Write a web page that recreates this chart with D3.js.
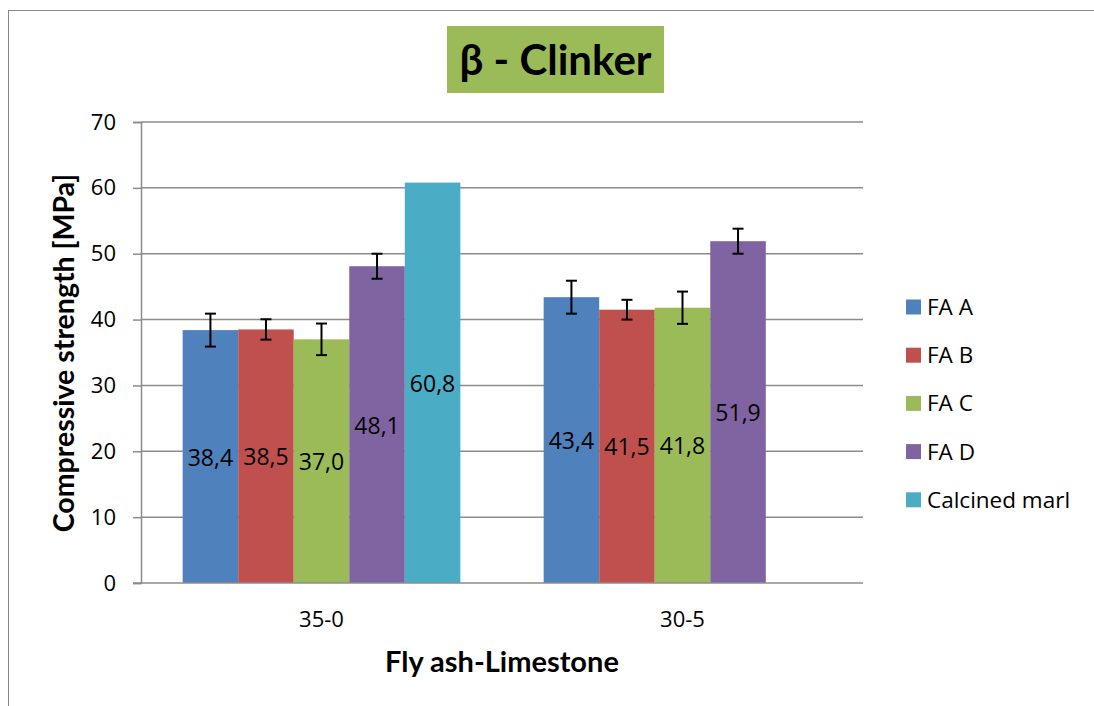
<!DOCTYPE html>
<html>
<head>
<meta charset="utf-8">
<script src="https://cdn.jsdelivr.net/npm/d3@7"></script>
<style>
  html, body { margin: 0; padding: 0; background: #fff; }
  svg { display: block; }
  text { font-family: "Open Sans", Lato, sans-serif; fill: #000; }
  .bold { font-family: Lato, "Open Sans", sans-serif; font-weight: bold; }
</style>
</head>
<body>
<svg id="chart" width="1094" height="706"></svg>
<script>
const categories = ["35-0", "30-5"];
const seriesNames = ["FA A", "FA B", "FA C", "FA D", "Calcined marl"];
const seriesColors = ["#4F81BD", "#C0504D", "#9BBB59", "#8064A2", "#4BACC6"];
// values per series, per category (null = no bar)
const faA = [38.4, 43.4];
const faB = [38.5, 41.5];
const faC = [37.0, 41.8];
const faD = [48.1, 51.9];
const calcinedMarl = [60.8, null];
// error bar half-widths per series, per category (null = none)
const errA = [2.5, 2.5];
const errB = [1.55, 1.5];
const errC = [2.4, 2.45];
const errD = [1.9, 1.9];
const errM = [null, null];
const yTicks = [0, 10, 20, 30, 40, 50, 60, 70];
const titleText = "β - Clinker";
const xTitle = "Fly ash-Limestone";
const yTitle = "Compressive strength [MPa]";

const seriesValues = [faA, faB, faC, faD, calcinedMarl];
const seriesErrors = [errA, errB, errC, errD, errM];

const svg = d3.select("#chart");
const plot = { left: 141, right: 863, top: 122, bottom: 583 };

// outer frame
svg.append("rect")
  .attr("x", 8.5).attr("y", 10.5)
  .attr("width", 1200).attr("height", 800)
  .attr("fill", "none").attr("stroke", "#888").attr("stroke-width", 1);

const y = d3.scaleLinear().domain([0, 70]).range([plot.bottom, plot.top]);
const x0 = d3.scaleBand().domain(categories).range([plot.left, plot.right]).paddingInner(0).paddingOuter(0);
const x1 = d3.scaleBand().domain(seriesNames).range([0, x0.bandwidth()]).paddingInner(0).paddingOuter(0.75);

// gridlines
svg.append("g")
  .selectAll("line")
  .data(yTicks.filter(t => t > 0))
  .join("line")
  .attr("x1", plot.left).attr("x2", plot.right)
  .attr("y1", d => y(d)).attr("y2", d => y(d))
  .attr("stroke", "#8c8c8c").attr("stroke-width", 1.5);

// y axis
const yAxis = d3.axisLeft(y).tickValues(yTicks).tickSize(8).tickPadding(17).tickFormat(d3.format("d"));
const gy = svg.append("g").attr("transform", `translate(${plot.left},0)`).call(yAxis);
gy.select(".domain").attr("stroke", "#8c8c8c").attr("stroke-width", 1.5);
gy.selectAll(".tick line").attr("stroke", "#8c8c8c").attr("stroke-width", 1.5);
gy.selectAll(".tick text").style("font-family", "'Open Sans', sans-serif").style("font-size", "22px").attr("fill", "#000");

// bars
const groups = svg.append("g")
  .selectAll("g")
  .data(categories)
  .join("g")
  .attr("transform", d => `translate(${x0(d)},0)`);

const barData = (cat, ci) => seriesNames.map((s, si) => ({
  series: s, color: seriesColors[si], value: seriesValues[si][ci], err: seriesErrors[si][ci]
})).filter(d => d.value != null);

groups.each(function(cat, ci) {
  const g = d3.select(this);
  const data = barData(cat, ci);
  g.selectAll("rect.bar")
    .data(data)
    .join("rect")
    .attr("class", "bar")
    .attr("x", d => x1(d.series))
    .attr("width", x1.bandwidth())
    .attr("y", d => y(d.value))
    .attr("height", d => y(0) - y(d.value))
    .attr("fill", d => d.color);

  // error bars
  const eb = g.selectAll("g.err")
    .data(data.filter(d => d.err != null))
    .join("g").attr("class", "err")
    .attr("stroke", "#000").attr("stroke-width", 2);
  eb.append("line")
    .attr("x1", d => x1(d.series) + x1.bandwidth() / 2)
    .attr("x2", d => x1(d.series) + x1.bandwidth() / 2)
    .attr("y1", d => y(d.value + d.err))
    .attr("y2", d => y(d.value - d.err));
  eb.append("line")
    .attr("x1", d => x1(d.series) + x1.bandwidth() / 2 - 5.5)
    .attr("x2", d => x1(d.series) + x1.bandwidth() / 2 + 5.5)
    .attr("y1", d => y(d.value + d.err))
    .attr("y2", d => y(d.value + d.err));
  eb.append("line")
    .attr("x1", d => x1(d.series) + x1.bandwidth() / 2 - 5.5)
    .attr("x2", d => x1(d.series) + x1.bandwidth() / 2 + 5.5)
    .attr("y1", d => y(d.value - d.err))
    .attr("y2", d => y(d.value - d.err));

  // data labels
  g.selectAll("text.lbl")
    .data(data)
    .join("text")
    .attr("class", "lbl")
    .attr("x", d => x1(d.series) + x1.bandwidth() / 2)
    .attr("y", d => (y(d.value) + y(0)) / 2 + 9)
    .attr("text-anchor", "middle")
    .style("font-size", "23px")
    .text(d => d3.format(".1f")(d.value).replace(".", ","));
});

// x axis line
svg.append("line")
  .attr("x1", plot.left - 8).attr("x2", plot.right)
  .attr("y1", plot.bottom).attr("y2", plot.bottom)
  .attr("stroke", "#8c8c8c").attr("stroke-width", 1.5);

// category labels
svg.append("g")
  .selectAll("text")
  .data(categories)
  .join("text")
  .attr("x", d => x0(d) + x0.bandwidth() / 2)
  .attr("y", 627)
  .attr("text-anchor", "middle")
  .style("font-size", "22px")
  .text(d => d);

// axis titles
svg.append("text")
  .attr("class", "bold")
  .attr("x", 502).attr("y", 672)
  .attr("text-anchor", "middle")
  .style("font-size", "29px")
  .text(xTitle);

svg.append("text")
  .attr("class", "bold")
  .attr("transform", "translate(74,353) rotate(-90)")
  .attr("text-anchor", "middle")
  .style("font-size", "28.5px")
  .text(yTitle);

// title with green box
svg.append("rect")
  .attr("x", 447).attr("y", 26).attr("width", 217).attr("height", 67)
  .attr("fill", "#9BBB59");
svg.append("text")
  .attr("class", "bold")
  .attr("x", 555.5).attr("y", 75)
  .attr("text-anchor", "middle")
  .style("font-size", "42px")
  .text(titleText);

// legend
const legend = svg.append("g")
  .selectAll("g")
  .data(seriesNames)
  .join("g")
  .attr("transform", (d, i) => `translate(906,${307 + i * 48.2})`);
legend.append("rect")
  .attr("x", 0).attr("y", -7.5).attr("width", 15).attr("height", 15)
  .attr("fill", (d, i) => seriesColors[i]);
legend.append("text")
  .attr("x", 21).attr("y", 8)
  .style("font-size", "22.5px")
  .text(d => d);
</script>
</body>
</html>
